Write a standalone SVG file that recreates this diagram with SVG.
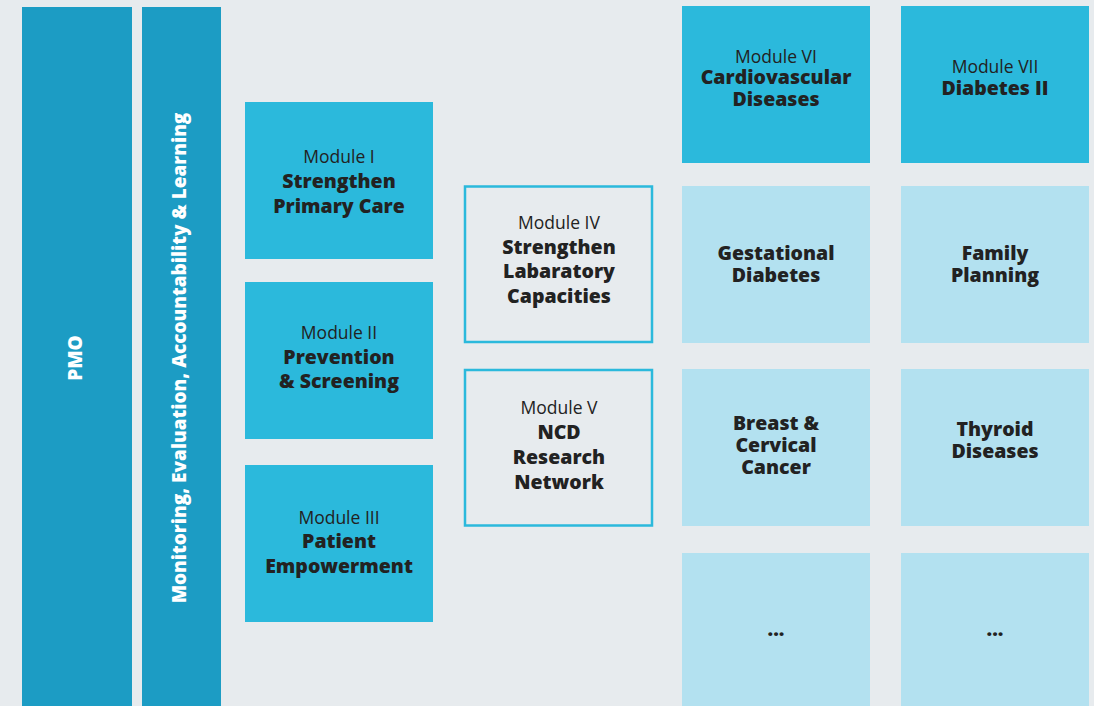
<svg xmlns="http://www.w3.org/2000/svg" width="1094" height="706" viewBox="0 0 1094 706">
<style>
.bg{fill:#e7ebee}
.bar{fill:#1c9cc4}
.dark{fill:#2bb9dc}
.light{fill:#b3e1f0}
.out{fill:#e7ebee;stroke:#2bb9dc;stroke-width:2.5}
text{font-family:"Open Sans","Liberation Sans",sans-serif;text-anchor:middle;fill:#222}
.n{font-size:17.5px;font-weight:400}
.b{font-size:19.5px;font-weight:800}
.w{fill:#ffffff;font-size:19px;font-weight:800}
</style>
<rect class="bg" x="0" y="0" width="1094" height="706"/>
<g id="pmo"><rect class="bar" x="22" y="7" width="110" height="699"/><text class="w" transform="translate(82,358) rotate(-90)">PMO</text></g>
<g id="meal"><rect class="bar" x="142" y="7" width="79" height="699"/><text class="w" transform="translate(186,358) rotate(-90)">Monitoring, Evaluation, Accountability &amp; Learning</text></g>
<g id="m1"><rect class="dark" x="245" y="102" width="188" height="157"/><text x="339" y="163" class="n">Module I</text><text x="339" y="188" class="b">Strengthen</text><text x="339" y="213" class="b">Primary Care</text></g>
<g id="m2"><rect class="dark" x="245" y="282" width="188" height="157"/><text x="339" y="339" class="n">Module II</text><text x="339" y="364" class="b">Prevention</text><text x="339" y="388" class="b">&amp; Screening</text></g>
<g id="m3"><rect class="dark" x="245" y="465" width="188" height="157"/><text x="339" y="524" class="n">Module III</text><text x="339" y="548" class="b">Patient</text><text x="339" y="573" class="b">Empowerment</text></g>
<g id="m4"><rect class="out" x="465" y="186.5" width="187" height="155.5"/><text x="559" y="229" class="n">Module IV</text><text x="559" y="254" class="b">Strengthen</text><text x="559" y="278" class="b">Labaratory</text><text x="559" y="303" class="b">Capacities</text></g>
<g id="m5"><rect class="out" x="465" y="370" width="187" height="155.5"/><text x="559" y="414" class="n">Module V</text><text x="559" y="439" class="b">NCD</text><text x="559" y="464" class="b">Research</text><text x="559" y="489" class="b">Network</text></g>
<g id="m6"><rect class="dark" x="682" y="6" width="188" height="157"/><text x="776" y="63" class="n">Module VI</text><text x="776" y="84" class="b">Cardiovascular</text><text x="776" y="106" class="b">Diseases</text></g>
<g id="m7"><rect class="dark" x="901" y="6" width="188" height="157"/><text x="995" y="73" class="n">Module VII</text><text x="995" y="95" class="b">Diabetes II</text></g>
<g id="gest"><rect class="light" x="682" y="186" width="188" height="157"/><text x="776" y="260" class="b">Gestational</text><text x="776" y="282" class="b">Diabetes</text></g>
<g id="fam"><rect class="light" x="901" y="186" width="188" height="157"/><text x="995" y="260" class="b">Family</text><text x="995" y="282" class="b">Planning</text></g>
<g id="breast"><rect class="light" x="682" y="369" width="188" height="157"/><text x="776" y="430" class="b">Breast &amp;</text><text x="776" y="452" class="b">Cervical</text><text x="776" y="474" class="b">Cancer</text></g>
<g id="thy"><rect class="light" x="901" y="369" width="188" height="157"/><text x="995" y="436" class="b">Thyroid</text><text x="995" y="458" class="b">Diseases</text></g>
<g id="more1"><rect class="light" x="682" y="553" width="188" height="153"/><text x="776" y="636" class="b">...</text></g>
<g id="more2"><rect class="light" x="901" y="553" width="188" height="153"/><text x="995" y="636" class="b">...</text></g>
<g id="connectors"></g>
</svg>
